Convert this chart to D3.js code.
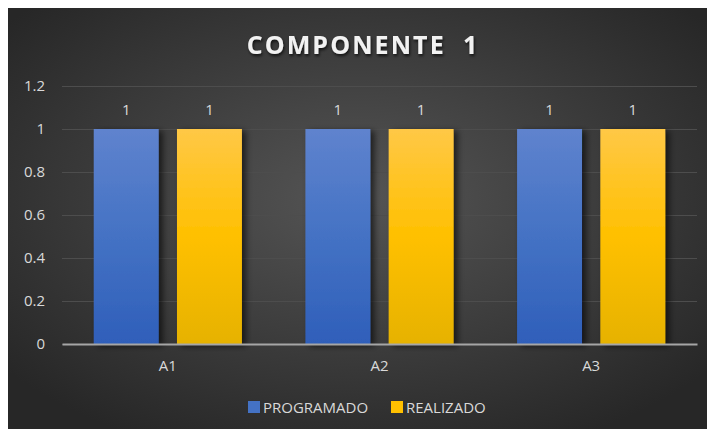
<!DOCTYPE html>
<html>
<head>
<meta charset="utf-8">
<script src="https://cdn.jsdelivr.net/npm/d3@7"></script>
<style>
  body { margin: 0; background: #fff; }
  text { font-family: "Open Sans", "DejaVu Sans", sans-serif; }
</style>
</head>
<body>
<div id="chart"></div>
<script>
// chart data
var categories = ["A1", "A2", "A3"];
var seriesNames = ["PROGRAMADO", "REALIZADO"];
var programado = [1, 1, 1];
var realizado = [1, 1, 1];
var yTicks = [0, 0.2, 0.4, 0.6, 0.8, 1, 1.2];

var width = 707, height = 429;
var plotLeft = 62, plotRight = 697, plotTop = 86, plotBottom = 344;

var svg = d3.select("#chart")
    .append("svg")
    .attr("width", width)
    .attr("height", height);

var defs = svg.append("defs");

// background gradient
var bg = defs.append("radialGradient")
    .attr("id", "bg")
    .attr("cx", "50%").attr("cy", "45%").attr("r", "65%");
bg.append("stop").attr("offset", "0%").attr("stop-color", "#555555");
bg.append("stop").attr("offset", "100%").attr("stop-color", "#272727");

var blue = defs.append("linearGradient")
    .attr("id", "blueGrad")
    .attr("x1", 0).attr("y1", 0).attr("x2", 0).attr("y2", 1);
blue.append("stop").attr("offset", "0%").attr("stop-color", "#5F83CE");
blue.append("stop").attr("offset", "50%").attr("stop-color", "#4472C4");
blue.append("stop").attr("offset", "100%").attr("stop-color", "#2F5FBA");

var yellow = defs.append("linearGradient")
    .attr("id", "yellowGrad")
    .attr("x1", 0).attr("y1", 0).attr("x2", 0).attr("y2", 1);
yellow.append("stop").attr("offset", "0%").attr("stop-color", "#FFC846");
yellow.append("stop").attr("offset", "50%").attr("stop-color", "#FFC000");
yellow.append("stop").attr("offset", "100%").attr("stop-color", "#E6B200");

var shadow = defs.append("filter")
    .attr("id", "shadow")
    .attr("x", "-20%").attr("y", "-20%").attr("width", "150%").attr("height", "150%");
shadow.append("feDropShadow")
    .attr("dx", 4).attr("dy", 2).attr("stdDeviation", 3)
    .attr("flood-color", "#000").attr("flood-opacity", 0.6);

var titleShadow = defs.append("filter").attr("id", "tshadow");
titleShadow.append("feDropShadow")
    .attr("dx", 1).attr("dy", 2).attr("stdDeviation", 1.5)
    .attr("flood-color", "#000").attr("flood-opacity", 0.7);

svg.append("rect")
    .attr("x", 8).attr("y", 8)
    .attr("width", width - 8).attr("height", height - 8)
    .attr("fill", "url(#bg)");

// title
svg.append("text")
    .attr("x", 363).attr("y", 54)
    .attr("text-anchor", "middle")
    .attr("fill", "#f2f2f2")
    .attr("font-size", 25)
    .attr("font-weight", "bold")
    .style("letter-spacing", "2.1px")
    .style("white-space", "pre")
    .attr("filter", "url(#tshadow)")
    .text("COMPONENTE  1");

var yScale = d3.scaleLinear().domain([0, 1.2]).range([plotBottom, plotTop]);

var x0 = d3.scaleBand()
    .domain(categories)
    .range([plotLeft, plotRight])
    .paddingInner(0.3)
    .paddingOuter(0.15);

var x1 = d3.scaleBand()
    .domain(seriesNames)
    .range([0, x0.bandwidth()])
    .paddingInner(0.22);

// grid
var yAxis = d3.axisLeft(yScale)
    .tickValues(yTicks)
    .tickSize(-(plotRight - plotLeft))
    .tickPadding(17)
    .tickFormat(d3.format("~g"));

var gy = svg.append("g")
    .attr("transform", "translate(" + plotLeft + ",0)")
    .call(yAxis);
gy.select(".domain").remove();
gy.selectAll(".tick line")
    .attr("stroke", "#4d4d4d")
    .attr("stroke-width", 1);
gy.selectAll(".tick text")
    .attr("fill", "#d9d9d9")
    .attr("font-size", 15);

var colors = { "PROGRAMADO": "url(#blueGrad)", "REALIZADO": "url(#yellowGrad)" };
var solid = { "PROGRAMADO": "#4472C4", "REALIZADO": "#FFC000" };

var rows = categories.map(function(c, i) {
    return { cat: c, values: [
        { name: "PROGRAMADO", value: programado[i] },
        { name: "REALIZADO", value: realizado[i] }
    ]};
});

var groups = svg.selectAll(".grp")
    .data(rows)
    .enter().append("g")
    .attr("class", "grp")
    .attr("transform", function(d) { return "translate(" + x0(d.cat) + ",0)"; });

groups.selectAll("rect")
    .data(function(d) { return d.values; })
    .enter().append("rect")
    .attr("x", function(d) { return x1(d.name); })
    .attr("y", function(d) { return yScale(d.value); })
    .attr("width", x1.bandwidth())
    .attr("height", function(d) { return yScale(0) - yScale(d.value); })
    .attr("fill", function(d) { return colors[d.name]; })
    .attr("filter", "url(#shadow)");

// value labels
groups.selectAll(".lbl")
    .data(function(d) { return d.values; })
    .enter().append("text")
    .attr("class", "lbl")
    .attr("x", function(d) { return x1(d.name) + x1.bandwidth() / 2; })
    .attr("y", function(d) { return yScale(d.value) - 14; })
    .attr("text-anchor", "middle")
    .attr("fill", "#d9d9d9")
    .attr("font-size", 15)
    .text(function(d) { return d.value; });

// x axis
var xAxis = d3.axisBottom(x0).tickSize(0).tickPadding(16);
var gx = svg.append("g")
    .attr("transform", "translate(0," + plotBottom + ")")
    .call(xAxis);
gx.select(".domain")
    .attr("stroke", "#a6a6a6")
    .attr("stroke-width", 2);
gx.selectAll(".tick text")
    .attr("fill", "#d9d9d9")
    .attr("font-size", 15);

// legend
var legendX = [248, 391];
var legend = svg.selectAll(".leg")
    .data(seriesNames)
    .enter().append("g")
    .attr("class", "leg")
    .attr("transform", function(d, i) { return "translate(" + legendX[i] + ",401)"; });
legend.append("rect")
    .attr("width", 12).attr("height", 12)
    .attr("fill", function(d) { return solid[d]; });
legend.append("text")
    .attr("x", 15).attr("y", 12)
    .attr("fill", "#d9d9d9")
    .attr("font-size", 15)
    .text(function(d) { return d; });
</script>
</body>
</html>
